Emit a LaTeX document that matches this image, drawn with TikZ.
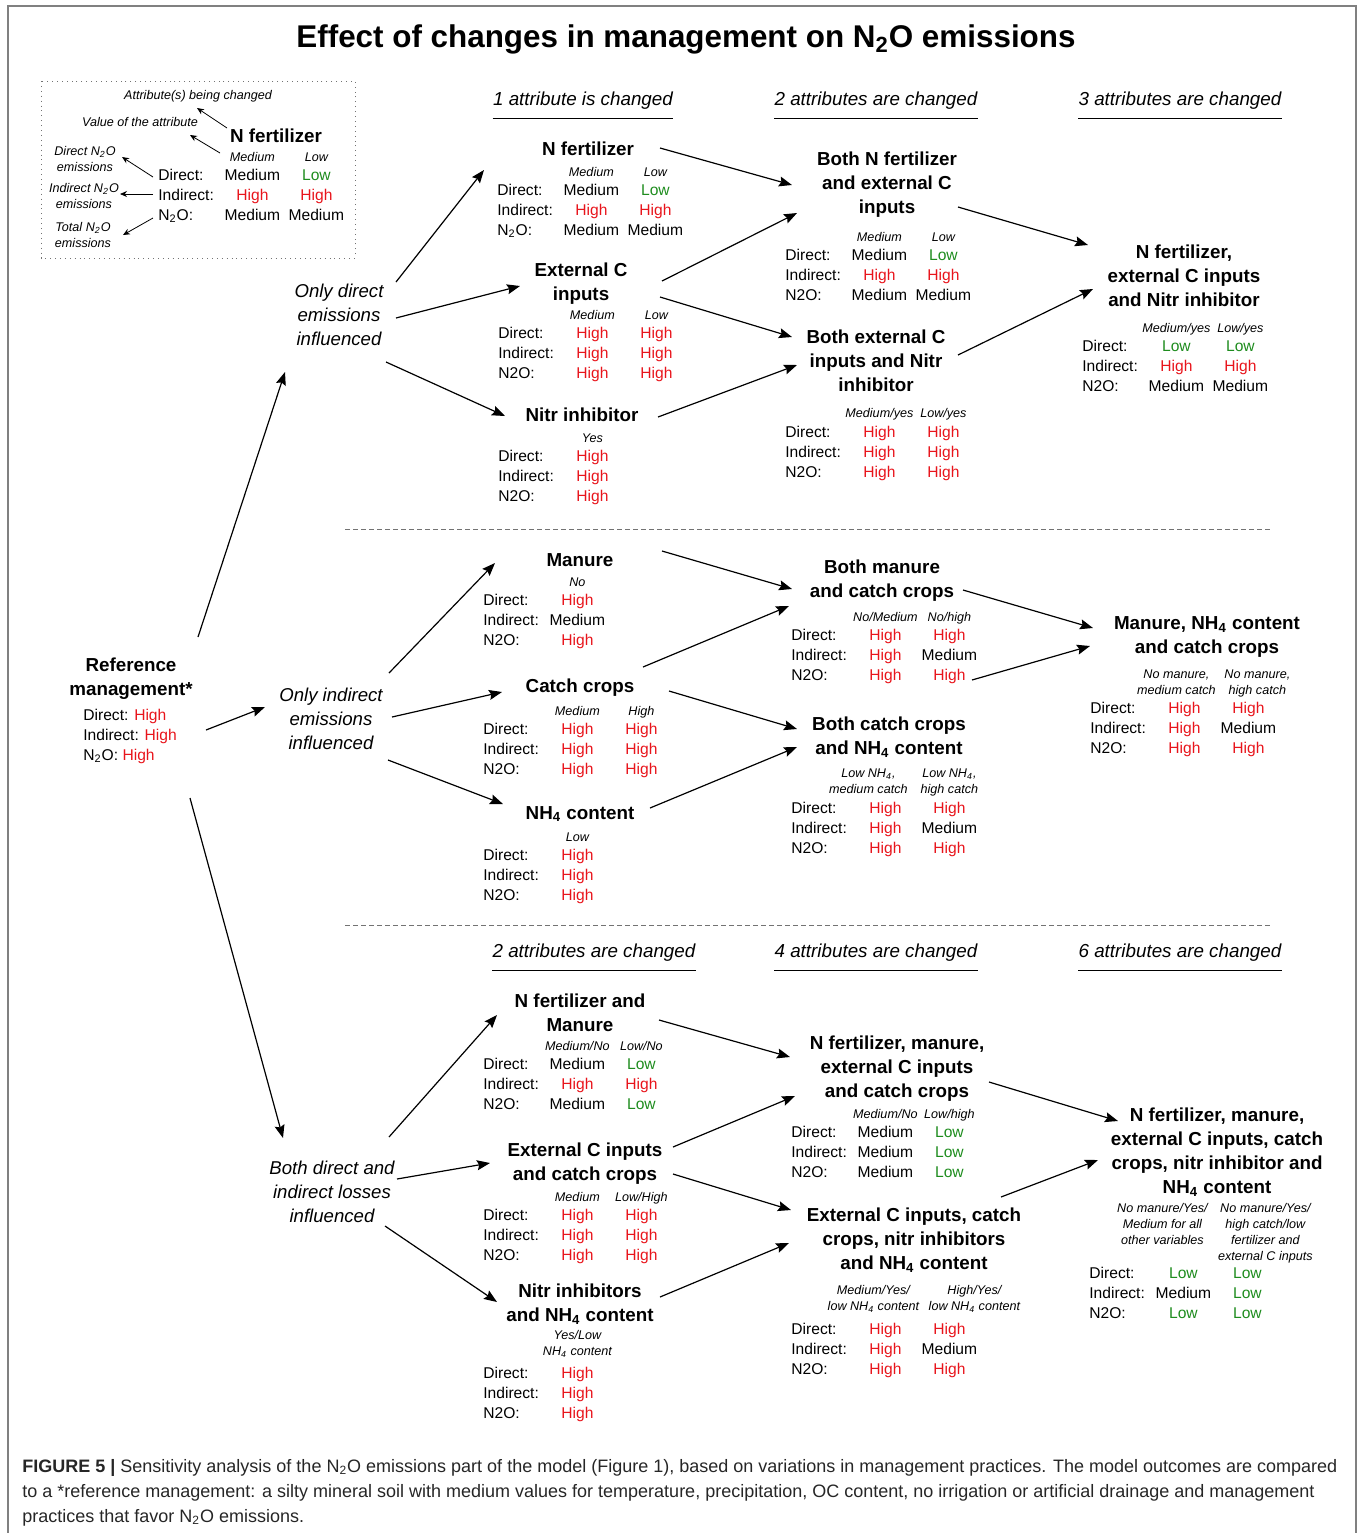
\documentclass[tikz,border=0pt]{standalone}
\usepackage{fontspec}
\setmainfont{Liberation Sans}
\usepackage{array}
\usepackage{xcolor}
\usetikzlibrary{arrows.meta,calc}
\definecolor{hival}{HTML}{E8141B}
\definecolor{loval}{HTML}{1E8C1E}
\definecolor{framegray}{HTML}{808080}
\newcommand{\hval}[1]{\textcolor{hival}{#1}}
\newcommand{\lval}[1]{\textcolor{loval}{#1}}
\newcommand{\ntwoo}{N\textsubscript{2}O}
\newcommand{\nhfour}{NH\textsubscript{4}}
\newcolumntype{L}{>{\raggedright\arraybackslash}p{31pt}}
\newcolumntype{V}{>{\centering\arraybackslash}p{32pt}}
\newenvironment{blk}{\begin{tabular}[t]{@{}L@{}V@{}V@{}}}{\end{tabular}}
\newcommand{\att}[2][0pt]{\makebox[\linewidth]{\kern#1{\fontsize{6.3}{8}\selectfont\itshape
  \begin{tabular}[b]{@{}c@{}}#2\end{tabular}}\kern-#1}}
\tikzset{
  maintitle/.style={font=\fontsize{15.7}{19}\selectfont\bfseries, inner sep=0pt, yshift=-1.5pt},
  ttl/.style={font=\fontsize{9.4}{12}\selectfont\bfseries, align=center, inner sep=0pt, yshift=-1pt},
  grp/.style={font=\fontsize{9.3}{12}\selectfont\itshape, align=center, inner sep=0pt, yshift=-0.5pt},
  colhd/.style={font=\fontsize{9.4}{11}\selectfont\itshape, inner sep=0pt, yshift=-1pt},
  note/.style={font=\fontsize{6.3}{8}\selectfont\itshape, align=center, inner sep=0pt},
  vals/.style={font=\fontsize{7.8}{10}\selectfont, inner sep=0pt, anchor=base west},
  capt/.style={font=\fontsize{9}{12.5}\selectfont, align=left, inner sep=0pt, text=black!85, yshift=-1pt},
  arr/.style={-{Stealth[length=6.5pt,width=5pt,inset=1pt]}, line width=0.6pt},
  lgarr/.style={-{Stealth[length=3.5pt,width=3pt]}, line width=0.4pt},
  hdrule/.style={line width=0.6pt},
  divider/.style={draw=black!55, line width=0.45pt, dash pattern=on 2.5pt off 1.5pt},
  legendbox/.style={draw=black!55, line width=0.45pt, dotted},
  frame/.style={draw=framegray, line width=1pt},
}
\begin{document}
\begin{tikzpicture}[x=0.5pt, y=-0.5pt]
  \useasboundingbox (0,0) rectangle (1360,1533);
  \draw[frame] (8,1545) -- (8,6) -- (1356,6) -- (1356,1545);

  \node[maintitle] (title) at (686,36) {Effect of changes in management on \ntwoo{} emissions};

  % legend
  \draw[legendbox] (41,81) rectangle (355,258);
  \node[note] (lgattr) at (198,96) {Attribute(s) being changed};
  \node[note] (lgval)  at (140,122) {Value of the attribute};
  \node[ttl]  (lgtitle) at (276,134) {N fertilizer};
  \node[note] (lgdir) at (85,158.5) {Direct \ntwoo\\emissions};
  \node[note] (lgind) at (84,195.5) {Indirect \ntwoo\\emissions};
  \node[note] (lgtot) at (83,234.5) {Total \ntwoo\\emissions};
  \node[vals] (lgvals) at (158,161) {\begin{blk}
     & \att{Medium} & \att{Low}\\[-0.5pt]
    Direct: & Medium & \lval{Low}\\
    Indirect: & \hval{High} & \hval{High}\\
    \ntwoo: & Medium & Medium
  \end{blk}};
  \draw[lgarr] ($(lgtitle)+(-49,-8)$) -- ($(lgattr)+(-1,12)$);
  \draw[lgarr] ($(lgvals.base west)+(62,-8)$) -- ($(lgval)+(50,13)$);
  \draw[lgarr] ($(lgvals.base west)+(-5,16)$) -- ($(lgdir)+(37,-1.5)$);
  \draw[lgarr] ($(lgvals.base west)+(-5,33)$) -- ($(lgind)+(36,-1.5)$);
  \draw[lgarr] ($(lgvals.base west)+(-5,57)$) -- ($(lgtot)+(40,0.5)$);

  % column headers
  \node[colhd] (h11) at (583,99) {1 attribute is changed};
  \node[colhd] (h12) at (876,99) {2 attributes are changed};
  \node[colhd] (h13) at (1180,99) {3 attributes are changed};
  \node[colhd] (h31) at (594,951) {2 attributes are changed};
  \node[colhd] (h32) at (876,951) {4 attributes are changed};
  \node[colhd] (h33) at (1180,951) {6 attributes are changed};
  \foreach \h in {h11,h12,h13,h31,h32,h33}
    \draw[hdrule] ([yshift=-6.5pt]\h.base west) -- ([yshift=-6.5pt]\h.base east);

  \draw[divider] (345,529) -- (1272,529);
  \draw[divider] (345,925) -- (1272,925);

  % reference
  \node[ttl] (ref) at (131,677) {Reference\\management*};
  \node[vals] (refv) at (83,720.5) {\begin{tabular}[t]{@{}l@{}}
    Direct: \hval{High}\\ Indirect: \hval{High}\\ \ntwoo: \hval{High}
  \end{tabular}};
  \node[grp] (sd) at (339,314) {Only direct\\emissions\\influenced};
  \node[grp] (si) at (331,718) {Only indirect\\emissions\\influenced};
  \node[grp] (sb) at (332,1191) {Both direct and\\indirect losses\\influenced};

  % only direct
  \node[ttl] (nfert) at (588,147) {N fertilizer};
  \node[vals] (nfertv) at (497,176) {\begin{blk}
     & \att{Medium} & \att{Low}\\[-0.5pt]
    Direct: & Medium & \lval{Low}\\
    Indirect: & \hval{High} & \hval{High}\\
    \ntwoo: & Medium & Medium
  \end{blk}};
  \node[ttl] (extc) at (581,281.5) {External C\\inputs};
  \node[vals] (extcv) at (498,319) {\begin{blk}
     & \att{Medium} & \att{Low}\\[-0.5pt]
    Direct: & \hval{High} & \hval{High}\\
    Indirect: & \hval{High} & \hval{High}\\
    N2O: & \hval{High} & \hval{High}
  \end{blk}};
  \node[ttl] (nitr) at (582,413) {Nitr inhibitor};
  \node[vals] (nitrv) at (498,442) {\begin{blk}
     & \att{Yes} & \\[-0.5pt]
    Direct: & \hval{High} & \\
    Indirect: & \hval{High} & \\
    N2O: & \hval{High} &
  \end{blk}};
  \node[ttl] (bnc) at (887,183) {Both N fertilizer\\and external C\\inputs};
  \node[vals] (bncv) at (785,241) {\begin{blk}
     & \att{Medium} & \att{Low}\\[-0.5pt]
    Direct: & Medium & \lval{Low}\\
    Indirect: & \hval{High} & \hval{High}\\
    N2O: & Medium & Medium
  \end{blk}};
  \node[ttl] (bcn) at (876,359) {Both external C\\inputs and Nitr\\inhibitor};
  \node[vals] (bcnv) at (785,417) {\begin{blk}
     & \att{Medium/yes} & \att{Low/yes}\\
    Direct: & \hval{High} & \hval{High}\\
    Indirect: & \hval{High} & \hval{High}\\
    N2O: & \hval{High} & \hval{High}
  \end{blk}};
  \node[ttl] (nfcn) at (1184,273.5) {N fertilizer,\\external C inputs\\and Nitr inhibitor};
  \node[vals] (nfcnv) at (1082,332) {\begin{blk}
     & \att{Medium/yes} & \att{Low/yes}\\[-0.5pt]
    Direct: & \lval{Low} & \lval{Low}\\
    Indirect: & \hval{High} & \hval{High}\\
    N2O: & Medium & Medium
  \end{blk}};

  % only indirect
  \node[ttl] (man) at (580,558) {Manure};
  \node[vals] (manv) at (483,586) {\begin{blk}
     & \att{No} & \\[-0.5pt]
    Direct: & \hval{High} & \\
    Indirect: & Medium & \\
    N2O: & \hval{High} &
  \end{blk}};
  \node[ttl] (catch) at (580,686) {Catch crops};
  \node[vals] (catchv) at (483,715) {\begin{blk}
     & \att{Medium} & \att{High}\\[-0.5pt]
    Direct: & \hval{High} & \hval{High}\\
    Indirect: & \hval{High} & \hval{High}\\
    N2O: & \hval{High} & \hval{High}
  \end{blk}};
  \node[ttl] (nh) at (580,812) {\nhfour{} content};
  \node[vals] (nhv) at (483,841) {\begin{blk}
     & \att{Low} & \\[-0.5pt]
    Direct: & \hval{High} & \\
    Indirect: & \hval{High} & \\
    N2O: & \hval{High} &
  \end{blk}};
  \node[ttl] (bmc) at (882,579) {Both manure\\and catch crops};
  \node[vals] (bmcv) at (791,621) {\begin{blk}
     & \att{No/Medium} & \att{No/high}\\[-0.5pt]
    Direct: & \hval{High} & \hval{High}\\
    Indirect: & \hval{High} & Medium\\
    N2O: & \hval{High} & \hval{High}
  \end{blk}};
  \node[ttl] (bcnh) at (889,735) {Both catch crops\\and \nhfour{} content};
  \node[vals] (bcnhv) at (791,793) {\begin{blk}
     & \att[-8.5pt]{Low \nhfour,\\medium catch} & \att{Low \nhfour,\\high catch}\\
    Direct: & \hval{High} & \hval{High}\\
    Indirect: & \hval{High} & Medium\\
    N2O: & \hval{High} & \hval{High}
  \end{blk}};
  \node[ttl] (mnc) at (1207,635) {Manure, \nhfour{} content\\and catch crops};
  \node[vals] (mncv) at (1090,694) {\begin{blk}
     & \att[-4pt]{No manure,\\medium catch} & \att[4.5pt]{No manure,\\high catch}\\[-0.5pt]
    Direct: & \hval{High} & \hval{High}\\
    Indirect: & \hval{High} & Medium\\
    N2O: & \hval{High} & \hval{High}
  \end{blk}};

  % both direct and indirect
  \node[ttl] (nfm) at (580,1010.5) {N fertilizer and\\Manure};
  \node[vals] (nfmv) at (483,1050) {\begin{blk}
     & \att{Medium/No} & \att{Low/No}\\[-0.5pt]
    Direct: & Medium & \lval{Low}\\
    Indirect: & \hval{High} & \hval{High}\\
    N2O: & Medium & \lval{Low}
  \end{blk}};
  \node[ttl] (ecc) at (585,1161.5) {External C inputs\\and catch crops};
  \node[vals] (eccv) at (483,1201) {\begin{blk}
     & \att{Medium} & \att{Low/High}\\[-0.5pt]
    Direct: & \hval{High} & \hval{High}\\
    Indirect: & \hval{High} & \hval{High}\\
    N2O: & \hval{High} & \hval{High}
  \end{blk}};
  \node[ttl] (ninh) at (580,1302.5) {Nitr inhibitors\\and \nhfour{} content};
  \node[vals] (ninhv) at (483,1355) {\begin{blk}
     & \att{Yes/Low\\\nhfour{} content} & \\[1.5pt]
    Direct: & \hval{High} & \\
    Indirect: & \hval{High} & \\
    N2O: & \hval{High} &
  \end{blk}};
  \node[ttl] (nfmec) at (897,1067) {N fertilizer, manure,\\external C inputs\\and catch crops};
  \node[vals] (nfmecv) at (791,1118) {\begin{blk}
     & \att{Medium/No} & \att{Low/high}\\[-0.5pt]
    Direct: & Medium & \lval{Low}\\
    Indirect: & Medium & \lval{Low}\\
    N2O: & Medium & \lval{Low}
  \end{blk}};
  \node[ttl] (ecnn) at (914,1238) {External C inputs, catch\\crops, nitr inhibitors\\and \nhfour{} content};
  \node[vals] (ecnnv) at (791,1310) {\begin{blk}
     & \att[-6pt]{Medium/Yes/\\low \nhfour{} content} & \att[12.5pt]{High/Yes/\\low \nhfour{} content}\\[2pt]
    Direct: & \hval{High} & \hval{High}\\
    Indirect: & \hval{High} & Medium\\
    N2O: & \hval{High} & \hval{High}
  \end{blk}};
  \node[ttl] (all6) at (1217,1150.5) {N fertilizer, manure,\\external C inputs, catch\\crops, nitr inhibitor and\\\nhfour{} content};
  \node[vals] (all6v) at (1089,1260) {\begin{blk}
     & \att[-10.5pt]{No manure/Yes/\\Medium for all\\other variables\\{}} & \att[9pt]{No manure/Yes/\\high catch/low\\fertilizer and\\external C inputs}\\[-1pt]
    Direct: & \lval{Low} & \lval{Low}\\
    Indirect: & Medium & \lval{Low}\\
    N2O: & \lval{Low} & \lval{Low}
  \end{blk}};

  % arrows: source/offset/target/offset
  \foreach \a/\ax/\ay/\b/\bx/\by in {
      ref/67/-42/sd/-54/57, ref/75/51/si/-66/-12, ref/59/119/sb/-49/-54,
      sd/57/-33/nfert/-104/21, sd/57/3/extc/-61/2.5, sd/47/47/nitr/-77/1,
      nfert/72/-1/bnc/-95/0, extc/81/-2.5/bnc/-90/28, extc/79/13.5/bcn/-84/-24,
      nitr/76/2/bcn/-79/4, bnc/71/22/nfcn/-96/-30.5, bcn/82/-6/nfcn/-91/13.5,
      si/58/-46/man/-85/3, si/61/-2/catch/-78/4, si/57/41/nh/-77/-10,
      man/82/-9/bmc/-90/8, catch/63/-21/bmc/-93/25, catch/89/3/bcnh/-92/-8,
      nh/70/-6/bcnh/-92/10, bmc/81/9/mnc/-114/-9, bcnh/83/-57/mnc/-117/9,
      sb/57/-55/nfm/-83/2.5, sb/65/-13/ecc/-95/-0.5, sb/53/34/ninh/-83/-2.5,
      nfm/79/7.5/nfmec/-107/-12, ecc/88/-16.5/nfmec/-102/27,
      ecc/88/10.5/ecnn/-123/-30, ninh/80/-7.5/ecnn/-125/3,
      nfmec/92/13/all6/-99/-31.5, ecnn/87/-43/all6/-119/7.5}
    \draw[arr] ($(\a)+(\ax,\ay)$) -- ($(\b)+(\bx,\by)$);

  % caption
  \node[capt, anchor=west] (caption) at (22,1491) {\textbf{FIGURE 5 |} Sensitivity analysis of the \ntwoo{} emissions part of the model (Figure 1), based on variations in management practices. The model outcomes are compared\\
    to a *reference management: a silty mineral soil with medium values for temperature, precipitation, OC content, no irrigation or artificial drainage and management\\
    practices that favor \ntwoo{} emissions.};
\end{tikzpicture}
\end{document}
